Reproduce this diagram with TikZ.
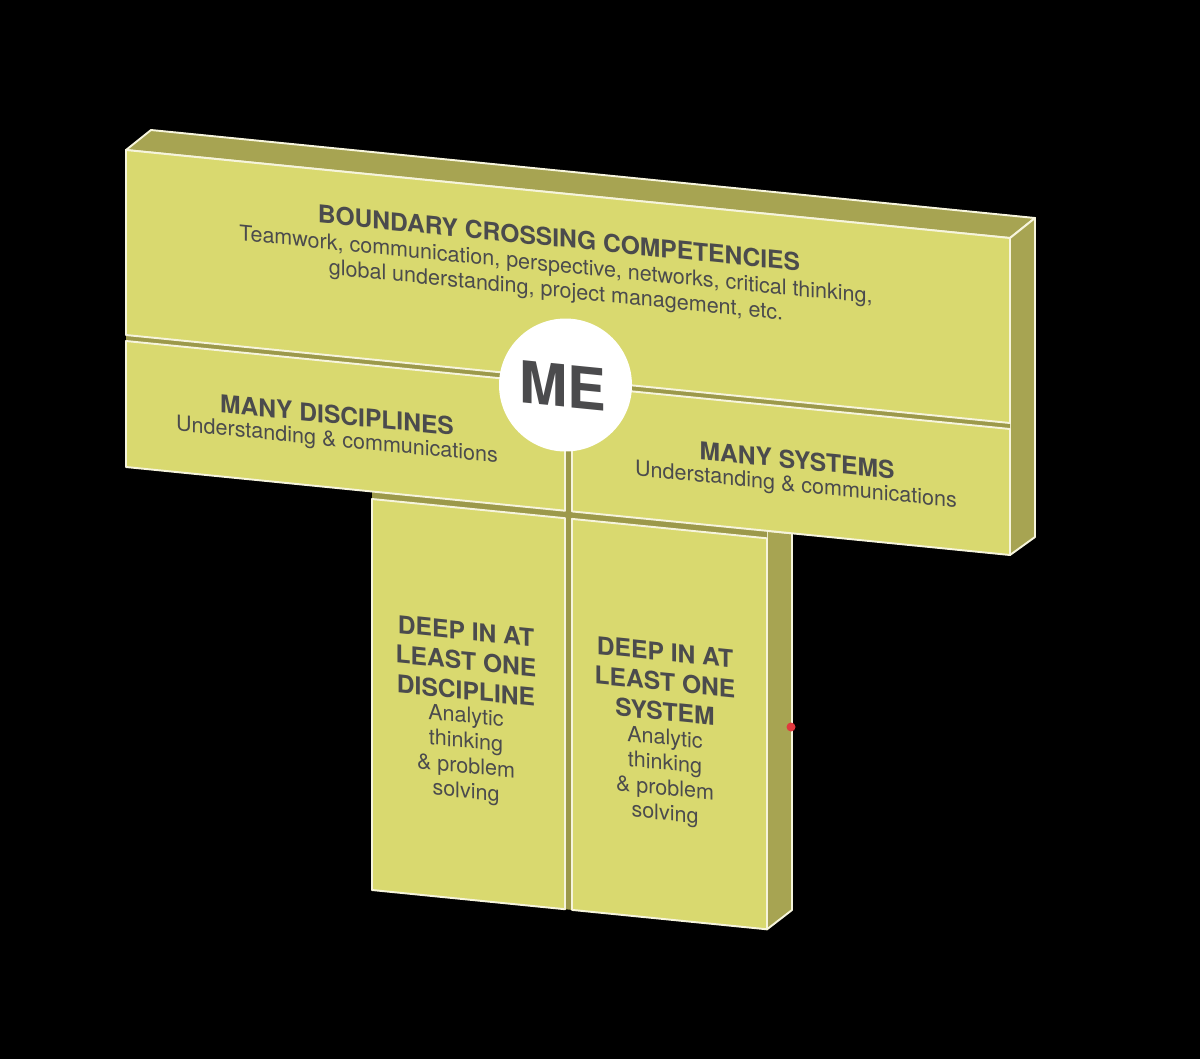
\documentclass[tikz,border=0pt]{standalone}
\usepackage{fontspec}
\setmainfont{TeX Gyre Heros}
\usepackage{tikz}
\usepackage{color}

\definecolor{panelyellow}{HTML}{D9D96F}
\definecolor{sideolive}{HTML}{A7A452}
\definecolor{gapolive}{HTML}{9C994A}
\definecolor{edgewhite}{HTML}{F6F4DC}
\definecolor{inkgray}{HTML}{4B4B4D}
\definecolor{dotred}{HTML}{E0393E}

\begin{document}
\begin{tikzpicture}[
x=0.02cm, y=-0.02cm,
panel/.style={fill=panelyellow, draw=edgewhite, line width=1.1pt, line join=round},
sideface/.style={fill=sideolive, draw=edgewhite, line width=1.1pt, line join=round},
headtext/.style={text=inkgray, yslant=-0.0995, align=center, inner sep=0pt, font=\bfseries\fontsize{14}{17}\selectfont},
bodytext/.style={text=inkgray, yslant=-0.0995, align=center, inner sep=0pt, font=\fontsize{12.25}{14.3}\selectfont},
mecircle/.style={circle, fill=white, inner sep=0pt, minimum size=2.66cm},
]
%Background
\fill[black] (0,0) rectangle (1200,1059);

%Faces
\draw[sideface] (126,150) -- (151,130) -- (1035,218) -- (1010,238) -- cycle;
\draw[sideface] (1010,238) -- (1035,218) -- (1035,537) -- (1010,555) -- cycle;
\draw[sideface] (767,530.8) -- (792,533.3) -- (792,910) -- (767,929.3) -- cycle;
\fill[gapolive] (126,150) -- (1010,238) -- (1010,555) -- (767,530.8) -- (767,929.3)
  -- (372,890) -- (372,491.5) -- (126,467) -- cycle;

%Panels
\draw[panel] (126,150) -- (1010,238) -- (1010,423) -- (126,335) -- cycle;
\draw[panel] (126,341) -- (565,384.7) -- (565,510.7) -- (126,467) -- cycle;
\draw[panel] (572,385.4) -- (1010,429) -- (1010,555) -- (572,511.4) -- cycle;
\draw[panel] (372,499) -- (565,518.2) -- (565,909.2) -- (372,890) -- cycle;
\draw[panel] (572,518.9) -- (767,538.3) -- (767,929.3) -- (572,909.9) -- cycle;

%Nodes
\node[headtext] (bchead) at (559,238) {BOUNDARY CROSSING COMPETENCIES};
\node[bodytext] (bcbody) at (556,279) {Teamwork, communication, perspective, networks, critical thinking,\\
  global understanding, project management, etc.};
\node[headtext] (mdhead) at (337,415) {MANY DISCIPLINES};
\node[bodytext] (mdbody) at (337,441) {Understanding \& communications};
\node[headtext] (mshead) at (797,460) {MANY SYSTEMS};
\node[bodytext] (msbody) at (796,486) {Understanding \& communications};
\node[headtext] (ddhead) at (466,661) {DEEP IN AT\\LEAST ONE\\DISCIPLINE};
\node[bodytext] (ddbody) at (466,755) {Analytic\\thinking\\\& problem\\solving};
\node[headtext] (dshead) at (665,682) {DEEP IN AT\\LEAST ONE\\SYSTEM};
\node[bodytext] (dsbody) at (665,777) {Analytic\\thinking\\\& problem\\solving};

\node[mecircle] (me) at (565.5,385) {};
\node[headtext, font=\bfseries\fontsize{33}{33}\selectfont] (metext) at (563,386) {ME};

\node[circle, fill=dotred, inner sep=0pt, minimum size=0.18cm] (dot) at (791,727) {};

\end{tikzpicture}
\end{document}
